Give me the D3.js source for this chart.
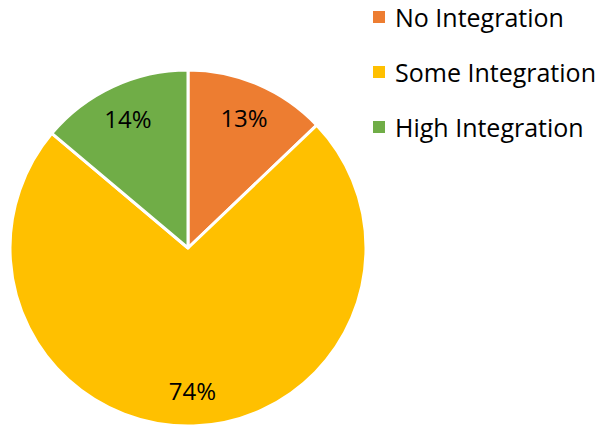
<!DOCTYPE html>
<html>
<head>
<meta charset="utf-8">
<script src="https://cdn.jsdelivr.net/npm/d3@7"></script>
<style>
  html, body { margin: 0; padding: 0; background: #fff; }
  svg { display: block; }
  text { font-family: "Open Sans", sans-serif; fill: #000; }
</style>
</head>
<body>
<svg id="chart" width="603" height="429"></svg>
<script>
// Share of respondents by level of integration
const categories = ["No Integration", "Some Integration", "High Integration"];
const values = [13, 74, 14];
const colors = ["#ED7D31", "#FFC000", "#70AD47"];

const svg = d3.select("#chart");
const cx = 188, cy = 248, radius = 178;

const pie = d3.pie().sort(null).value(d => d.value);
const arcs = pie(categories.map((c, i) => ({ name: c, value: values[i] })));

const arc = d3.arc().innerRadius(0).outerRadius(radius);
const labelArc = d3.arc().innerRadius(radius * 0.8).outerRadius(radius * 0.8);

const g = svg.append("g").attr("transform", `translate(${cx},${cy})`);

g.selectAll("path.slice")
  .data(arcs)
  .join("path")
  .attr("class", "slice")
  .attr("d", arc)
  .attr("fill", (d, i) => colors[i])
  .attr("stroke", "#fff")
  .attr("stroke-width", 3)
  .attr("stroke-linejoin", "round");

g.selectAll("text.pct")
  .data(arcs)
  .join("text")
  .attr("class", "pct")
  .attr("transform", d => `translate(${labelArc.centroid(d)})`)
  .attr("text-anchor", "middle")
  .attr("dominant-baseline", "central")
  .style("font-size", "24px")
  .text(d => d.data.value + "%");

// Legend
const legend = svg.append("g").attr("transform", "translate(373,17)");
const rows = legend.selectAll("g.row")
  .data(categories)
  .join("g")
  .attr("class", "row")
  .attr("transform", (d, i) => `translate(0,${i * 55})`);

rows.append("rect")
  .attr("x", 0).attr("y", -6)
  .attr("width", 12).attr("height", 12)
  .attr("fill", (d, i) => colors[i]);

rows.append("text")
  .attr("x", 22)
  .attr("y", 0)
  .attr("dominant-baseline", "central")
  .style("font-size", "25px")
  .text(d => d);
</script>
</body>
</html>
